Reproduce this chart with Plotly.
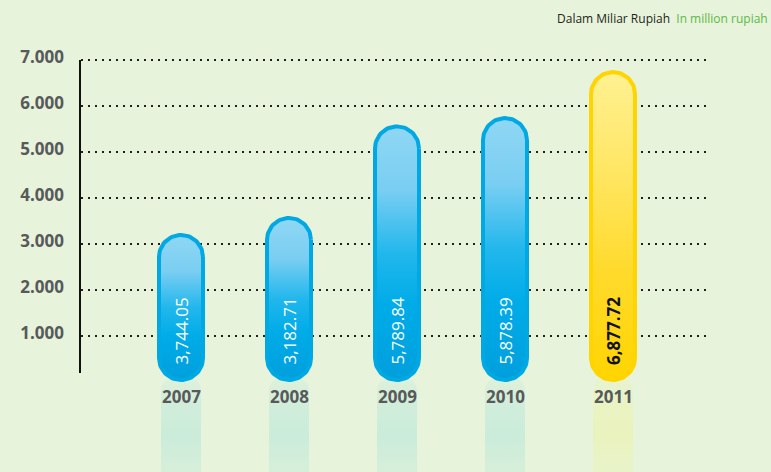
import numpy as np
import plotly.graph_objects as go

# ---- data ----
years = [2007, 2008, 2009, 2010, 2011]
bar_heights = [3240, 3610, 5600, 5780, 6780]          # bar heights as drawn in the picture
value_labels = ["3,744.05", "3,182.71", "5,789.84", "5,878.39", "6,877.72"]
y_ticks = [1000, 2000, 3000, 4000, 5000, 6000, 7000]
y_tick_labels = ["1.000", "2.000", "3.000", "4.000", "5.000", "6.000", "7.000"]
unit_note = "Dalam Miliar Rupiah"
unit_note_en = "In million rupiah"

# ---- layout geometry ----
W, H = 771, 472
ML, MR = 81, 65
PX_X = 108.0            # px per year
PX_Y = 0.046            # px per value unit
X_RANGE = [2009 - (397 - ML) / PX_X, 2009 + (W - MR - 397) / PX_X]
Y_RANGE = [-(H - 382) / PX_Y, 382 / PX_Y]
BG = "#e7f3da"
FONT = "Open Sans"


def capsule(xc, ybot, ytop, hw, round_bottom=True, r=None):
    r = hw if r is None else r
    rx = r / PX_X
    ry = r / PX_Y
    hwx = hw / PX_X
    t1 = np.linspace(0, np.pi / 2, 20)
    t2 = np.linspace(np.pi / 2, np.pi, 20)
    xs = list(xc + hwx - rx + rx * np.cos(t1)) + list(xc - hwx + rx + rx * np.cos(t2))
    ys = list(ytop - ry + ry * np.sin(t1)) + list(ytop - ry + ry * np.sin(t2))
    if round_bottom:
        t3 = np.linspace(np.pi, 1.5 * np.pi, 20)
        t4 = np.linspace(1.5 * np.pi, 2 * np.pi, 20)
        xs += list(xc - hwx + rx + rx * np.cos(t3)) + list(xc + hwx - rx + rx * np.cos(t4))
        ys += list(ybot + ry + ry * np.sin(t3)) + list(ybot + ry + ry * np.sin(t4))
    else:
        xs += [xc - hwx, xc + hwx]
        ys += [ybot, ybot]
    xs.append(xs[0])
    ys.append(ys[0])
    return xs, ys


fig = go.Figure()

blue_scale = [[0, "#009fdc"], [0.3, "#00ace8"], [0.5, "#22b7ec"], [0.75, "#7acef2"], [1, "#8fd7f4"]]
yellow_scale = [[0, "#ffd500"], [0.35, "#ffda2c"], [0.7, "#ffe767"], [1, "#fff192"]]

n = len(years)
for i, (yr, h) in enumerate(zip(years, bar_heights)):
    last = i == n - 1
    # reflection
    rc = "rgba(234,243,190,{a})" if last else "rgba(203,236,218,{a})"
    rx_, ry_ = capsule(yr, Y_RANGE[0] - 100, 4 / PX_Y, 20, round_bottom=False, r=12)
    fig.add_trace(go.Scatter(
        x=rx_, y=ry_, mode="lines", fill="toself", line=dict(width=0),
        fillgradient=dict(type="vertical",
                          colorscale=[[0, rc.format(a=0.55)], [0.4, rc.format(a=1)],
                                      [0.7, rc.format(a=0.85)], [1, rc.format(a=0.3)]]),
        hoverinfo="skip", showlegend=False))
    # bar capsule
    bx, by = capsule(yr, 2 / PX_Y, h - 2 / PX_Y, 22)
    fig.add_trace(go.Scatter(
        x=bx, y=by, mode="lines", fill="toself",
        line=dict(width=4, color="#ffd400" if last else "#00a9e3"),
        fillgradient=dict(type="vertical", colorscale=yellow_scale if last else blue_scale),
        hoverinfo="skip", showlegend=False))

# value labels inside bars
for i, (yr, lab) in enumerate(zip(years, value_labels)):
    last = i == n - 1
    fig.add_annotation(
        x=yr, y=(382 - 367) / PX_Y, xref="x", yref="y",
        text=lab, textangle=-90, showarrow=False, xanchor="center", yanchor="bottom",
        font=dict(family=FONT, size=17, color="#111111" if last else "#ffffff",
                  weight=700 if last else 400))

# year labels
for yr in years:
    fig.add_annotation(
        x=yr, y=-(396.5 - 382) / PX_Y, xref="x", yref="y", text=str(yr), showarrow=False,
        xanchor="center", yanchor="middle",
        font=dict(family=FONT, size=17, color="#58595b", weight=700))

# unit note
fig.add_annotation(
    x=(770 - ML) / (W - ML - MR), y=1 - 18 / H, xref="paper", yref="paper",
    xanchor="right", yanchor="middle", showarrow=False,
    text=f"{unit_note}  <span style='color:#5cb947'>{unit_note_en}</span>",
    font=dict(family=FONT, size=12, color="#231f20"))

# y axis line (partial)
fig.add_shape(type="line", xref="paper", yref="y", x0=-1 / (W - ML - MR), x1=-1 / (W - ML - MR),
              y0=7000, y1=(382 - 373) / PX_Y, line=dict(color="#111111", width=2))

fig.update_layout(
    width=W, height=H,
    margin=dict(l=ML, r=MR, t=0, b=0, pad=0),
    paper_bgcolor=BG, plot_bgcolor=BG,
    hovermode=False,
    xaxis=dict(range=X_RANGE, visible=False, fixedrange=True),
    yaxis=dict(range=Y_RANGE, tickvals=y_ticks, ticktext=y_tick_labels,
               showgrid=True, gridcolor="#231f20", griddash="2px,5px", gridwidth=2,
               zeroline=False, showline=False, ticks="", ticklabelstandoff=16,
               ticklabelshift=-3,
               tickfont=dict(family=FONT, size=17, color="#58595b", weight=700),
               fixedrange=True),
)

fig.write_html("out.html")
